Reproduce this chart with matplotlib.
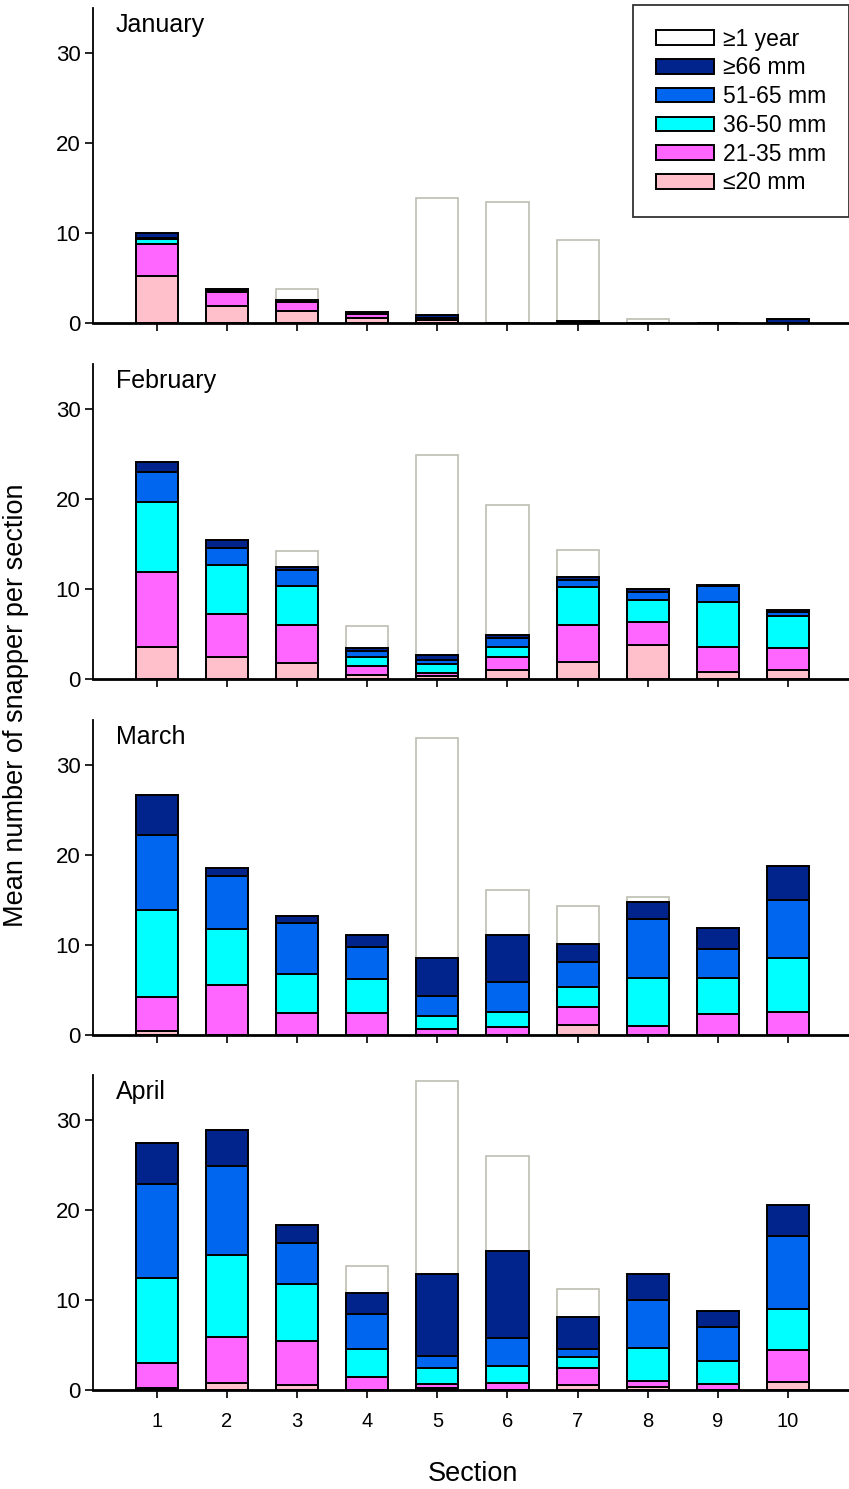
"""
Stacked bars of mean snapper per section by size class, one panel per month (Jan-Apr).
"""

import matplotlib

matplotlib.use("Agg")
import matplotlib.pyplot as plt
import numpy as np
from matplotlib.patches import Patch

sections = list(range(1, 11))
months = ["January", "February", "March", "April"]
classes = ["≤20 mm", "21-35 mm", "36-50 mm", "51-65 mm", "≥66 mm"]
older_label = "≥1 year"

# increments per size class (bottom -> top), then >=1 year on top
jan_le20 = [5.2, 1.9, 1.35, 0.6, 0.3, 0, 0, 0, 0, 0]
jan_21_35 = [3.6, 1.6, 0.95, 0.4, 0.2, 0, 0, 0, 0, 0]
jan_36_50 = [0.5, 0, 0, 0, 0, 0, 0, 0, 0, 0]
jan_51_65 = [0.1, 0.05, 0.05, 0, 0.05, 0, 0, 0, 0, 0]
jan_ge66 = [0.55, 0.25, 0.25, 0.2, 0.3, 0, 0.2, 0, 0, 0.4]
jan_older = [0, 0, 1.2, 0, 13.05, 13.5, 9.05, 0.4, 0, 0]

feb_le20 = [3.6, 2.4, 1.75, 0.5, 0.3, 1.0, 1.9, 3.8, 0.8, 1.0]
feb_21_35 = [8.25, 4.8, 4.25, 0.9, 0.4, 1.4, 4.1, 2.5, 2.8, 2.4]
feb_36_50 = [7.85, 5.5, 4.3, 1.0, 1.0, 1.2, 4.25, 2.5, 5.0, 3.6]
feb_51_65 = [3.3, 1.9, 1.8, 0.7, 0.4, 1.0, 0.75, 0.9, 1.7, 0.4]
feb_ge66 = [1.1, 0.8, 0.3, 0.4, 0.6, 0.25, 0.3, 0.26, 0.2, 0.3]
feb_older = [0, 0, 1.8, 2.4, 22.2, 14.45, 3.0, 0, 0, 0]

mar_le20 = [0.5, 0, 0, 0, 0, 0, 1.1, 0, 0, 0]
mar_21_35 = [3.7, 5.6, 2.45, 2.45, 0.7, 0.85, 2.05, 1.05, 2.3, 2.6]
mar_36_50 = [9.65, 6.2, 4.35, 3.75, 1.4, 1.75, 2.15, 5.3, 4.05, 5.95]
mar_51_65 = [8.35, 5.9, 5.6, 3.6, 2.2, 3.3, 2.8, 6.5, 3.25, 6.5]
mar_ge66 = [4.5, 0.9, 0.8, 1.3, 4.3, 5.2, 2.0, 1.95, 2.3, 3.75]
mar_older = [0, 0, 0, 0, 24.4, 5.05, 4.2, 0.5, 0, 0]

apr_le20 = [0.2, 0.8, 0.6, 0, 0.2, 0, 0.6, 0.3, 0, 0.9]
apr_21_35 = [2.8, 5.05, 4.9, 1.4, 0.5, 0.8, 1.8, 0.7, 0.7, 3.55]
apr_36_50 = [9.4, 9.2, 6.3, 3.2, 1.7, 1.9, 1.3, 3.7, 2.5, 4.55]
apr_51_65 = [10.45, 9.8, 4.5, 3.9, 1.4, 3.1, 0.9, 5.3, 3.8, 8.15]
apr_ge66 = [4.55, 4.0, 2.0, 2.3, 9.05, 9.7, 3.55, 2.85, 1.8, 3.45]
apr_older = [0, 0, 0, 3.0, 21.45, 10.5, 3.05, 0, 0, 0]

data = {
    "January": ([jan_le20, jan_21_35, jan_36_50, jan_51_65, jan_ge66], jan_older),
    "February": ([feb_le20, feb_21_35, feb_36_50, feb_51_65, feb_ge66], feb_older),
    "March": ([mar_le20, mar_21_35, mar_36_50, mar_51_65, mar_ge66], mar_older),
    "April": ([apr_le20, apr_21_35, apr_36_50, apr_51_65, apr_ge66], apr_older),
}

colors = ["#ffbfcb", "#ff66ff", "#00ffff", "#0066f0", "#00238c"]
older_edge = "#bdbdb2"


def main() -> None:
    plt.rcParams["font.family"] = ["Liberation Sans", "DejaVu Sans"]
    fig = plt.figure(figsize=(8.49, 14.89), dpi=100)
    H = 1489.0
    left = 93 / 849
    width = 1 - left
    # pixel rows of each panel's zero line / top
    zero_px = [323, 679, 1035, 1390]
    top_px = [8, 364, 720, 1075]

    x = np.array(sections)
    w = 0.6
    axes = []
    for i, month in enumerate(months):
        ax = fig.add_axes([left, 1 - zero_px[i] / H, width, (zero_px[i] - top_px[i]) / H])
        axes.append(ax)
        segs, older = data[month]
        bottom = np.zeros(len(sections))
        stack_top = np.sum(np.array(segs), axis=0)
        # >=1 year drawn as full-height outline behind the juvenile stack
        ax.bar(x, stack_top + np.array(older), width=w, color="white", edgecolor=older_edge,
               linewidth=1.2, zorder=1)
        for vals, c in zip(segs, colors):
            vals = np.array(vals, dtype=float)
            ax.bar(x, vals, bottom=bottom, width=w, color=c, edgecolor="black",
                   linewidth=1.4, zorder=2)
            bottom += vals

        ax.set_xlim(0.09, 10.87)
        ax.set_ylim(0, 35)
        ax.set_yticks([0, 10, 20, 30])
        ax.set_xticks(sections)
        ax.spines["top"].set_visible(False)
        ax.spines["right"].set_visible(False)
        ax.spines["bottom"].set_linewidth(2.0)
        ax.spines["left"].set_linewidth(1.3)
        ax.tick_params(axis="both", direction="out", length=6, width=1.2)
        ax.tick_params(axis="y", pad=3, labelsize=16)
        if i < 3:
            ax.set_xticklabels([])
        else:
            ax.tick_params(axis="x", pad=10, labelsize=14.5)
        ax.text(0.03, 0.985, month, transform=ax.transAxes, fontsize=18, va="top", ha="left")

    handles = [Patch(facecolor="white", edgecolor="black", linewidth=1.4, label=older_label)]
    for c, lab in zip(colors[::-1], classes[::-1]):
        handles.append(Patch(facecolor=c, edgecolor="black", linewidth=1.4, label=lab))
    leg = axes[0].legend(handles=handles, loc="upper right", bbox_to_anchor=(1.0, 1.01),
                         borderaxespad=0, fontsize=16.5, frameon=True, fancybox=False,
                         edgecolor="black", handlelength=2.5, handleheight=0.6,
                         handletextpad=0.4, labelspacing=0.25, borderpad=1.0)
    leg.get_frame().set_linewidth(1.3)

    fig.text(16 / 849, 1 - 705 / H, "Mean number of snapper per section", rotation=90,
             fontsize=19.5, ha="center", va="center")
    fig.text(473 / 849, 1 - 1474 / H, "Section", fontsize=19.5, ha="center", va="center")

    fig.savefig("out.png", dpi=100)
    plt.close(fig)


if __name__ == "__main__":
    main()
